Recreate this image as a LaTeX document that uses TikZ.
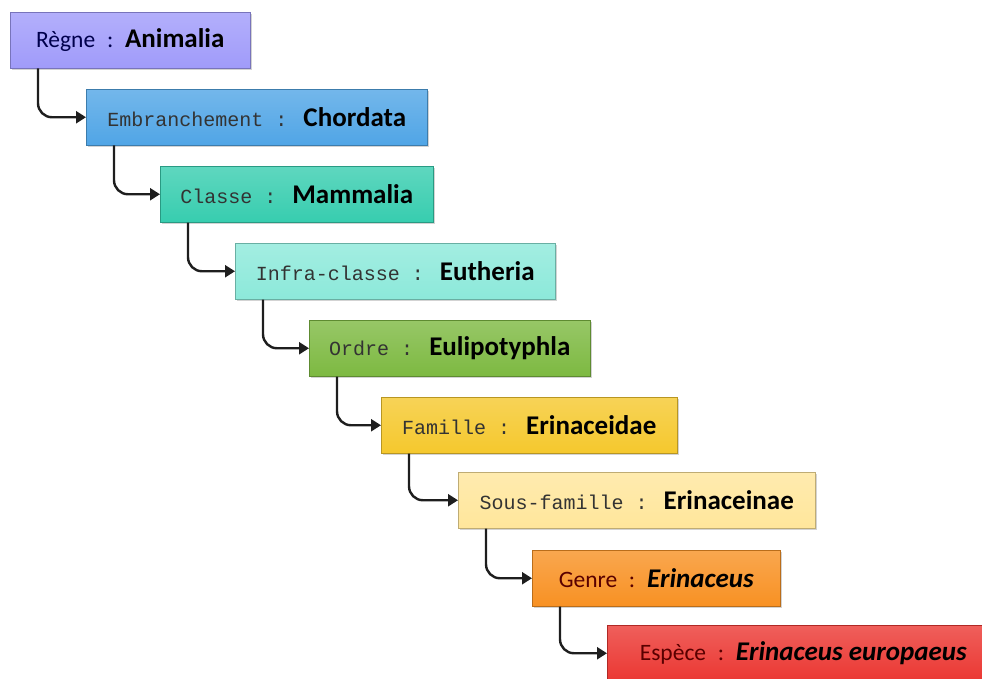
\documentclass[tikz,border=0pt]{standalone}
\usepackage{fontspec}
\setmainfont{Carlito}
\newfontfamily\rankfont{Liberation Mono}
\usetikzlibrary{arrows.meta,shadows}

\definecolor{regneC}{RGB}{160,155,250}
\definecolor{embrC}{RGB}{80,165,230}
\definecolor{classeC}{RGB}{55,205,175}
\definecolor{infraC}{RGB}{140,233,218}
\definecolor{ordreC}{RGB}{125,185,65}
\definecolor{familleC}{RGB}{245,200,45}
\definecolor{sousfamC}{RGB}{255,230,155}
\definecolor{genreC}{RGB}{248,145,35}
\definecolor{especeC}{RGB}{235,55,50}
\definecolor{lienC}{RGB}{30,30,30}

\newcommand{\rk}{\fontsize{20}{22}\rankfont\color{black!80}}
\newcommand{\rkc}{\fontsize{23.5}{26}\selectfont}
\newcommand{\nm}[1]{{\fontsize{27}{30}\selectfont\bfseries\color{black}#1}}
\newcommand{\nmi}[1]{{\fontsize{27}{30}\selectfont\bfseries\itshape\color{black}#1}}

\begin{document}
\begin{tikzpicture}[x=1pt, y=-1pt,
  rang/.style={draw=#1!75!black, line width=0.5pt, top color=#1!80!white, bottom color=#1,
    minimum height=56pt, inner sep=0pt, anchor=north west,
    drop shadow={shadow xshift=2pt, shadow yshift=-2pt, opacity=0.35}},
  lien/.style={draw=lienC, line width=2.4pt, rounded corners=14pt, -{Triangle[length=10pt,width=12pt]}}]
\useasboundingbox (0,0) rectangle (982,679);
% les rangs
\node[rang=regneC, minimum width=240pt] (regne) at (10,12)
  {{\rkc\color{blue!30!black}Règne\enspace:\enspace}\nm{Animalia}};
\node[rang=embrC, minimum width=341pt] (embr) at (86,89)
  {{\rk Embranchement : }\nm{Chordata}};
\node[rang=classeC, minimum width=273pt] (classe) at (160,166)
  {{\rk Classe : }\nm{Mammalia}};
\node[rang=infraC, minimum width=320pt] (infra) at (235,243)
  {{\rk Infra-classe : }\nm{Eutheria}};
\node[rang=ordreC, minimum width=281pt] (ordre) at (309,320)
  {{\rk Ordre : }\nm{Eulipotyphla}};
\node[rang=familleC, minimum width=296pt] (famille) at (381,397)
  {{\rk Famille : }\nm{Erinaceidae}};
\node[rang=sousfamC, minimum width=357pt] (sousfam) at (458,472)
  {{\rk Sous-famille : }\nm{Erinaceinae}};
\node[rang=genreC, minimum width=248pt] (genre) at (532,550)
  {{\rkc\color{red!35!black}Genre\enspace:\enspace}\nmi{Erinaceus}};
\node[rang=especeC, minimum width=392pt] (espece) at (607,625)
  {{\rkc\color{red!35!black}Espèce\enspace:\enspace}\nmi{Erinaceus europaeus}};
% les liens
\draw[lien] ([xshift=28pt]regne.south west) |- (embr.west);
\draw[lien] ([xshift=28pt]embr.south west) |- (classe.west);
\draw[lien] ([xshift=28pt]classe.south west) |- (infra.west);
\draw[lien] ([xshift=28pt]infra.south west) |- (ordre.west);
\draw[lien] ([xshift=28pt]ordre.south west) |- (famille.west);
\draw[lien] ([xshift=28pt]famille.south west) |- (sousfam.west);
\draw[lien] ([xshift=28pt]sousfam.south west) |- (genre.west);
\draw[lien] ([xshift=28pt]genre.south west) |- (espece.west);
\end{tikzpicture}
\end{document}
